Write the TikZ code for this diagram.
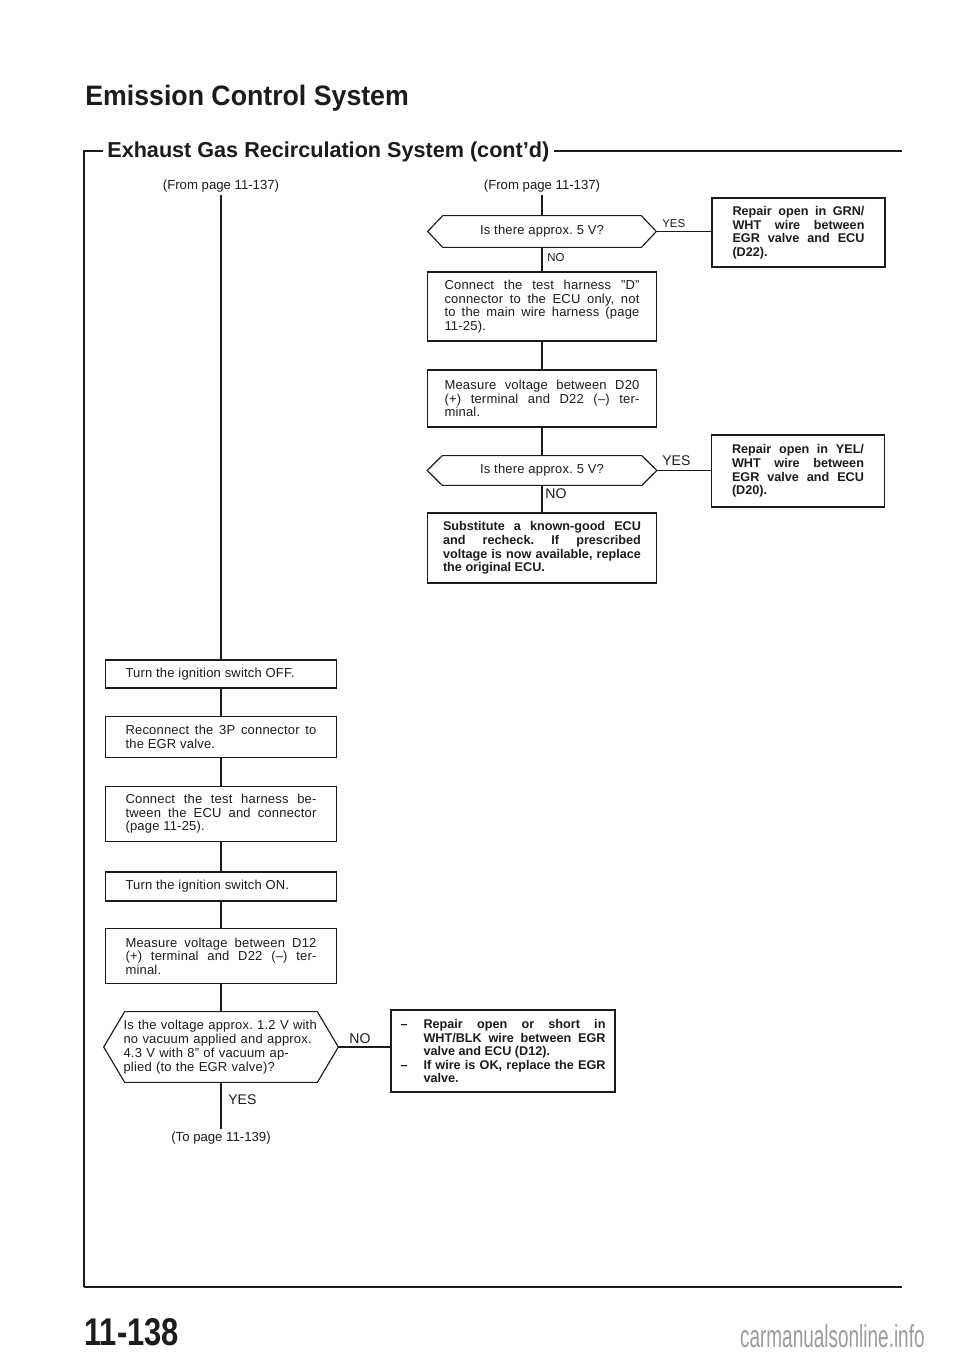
\documentclass[tikz,border=0pt]{standalone}
\usepackage{fontspec}
\setmainfont{Liberation Sans}
\newfontfamily\boxfont[LetterSpace=1.5]{Liberation Sans}
\usetikzlibrary{calc}
\frenchspacing
\definecolor{ECSink}{HTML}{1C1C1C}
\definecolor{ECSmark}{HTML}{9C9C9C}
\newcommand{\pxu}{0.02cm}
% hexagonal outline round a decision node (#2 = corner inset, px)
\newcommand{\hexframe}[2]{%
    \draw[qline] ($(#1.north west)+(#2,0)$) -- ($(#1.north east)+(-#2,0)$)
        -- (#1.east) -- ($(#1.south east)+(-#2,0)$)
        -- ($(#1.south west)+(#2,0)$) -- (#1.west) -- cycle;
}

\begin{document}
\begin{tikzpicture}[x=\pxu, y=-\pxu,
    stepline/.style={draw=ECSink, line width=0.6pt},
    qline/.style={draw=ECSink, line width=0.65pt},
    frameline/.style={draw=ECSink, line width=0.75pt},
    lbox/.style={draw=ECSink, line width=0.65pt, text=ECSink,
                 font=\boxfont\fontsize{7.4}{7.7}\selectfont,
                 text width=3.82cm, inner xsep=0.40cm, inner ysep=0pt,
                 align=justify},
    rbox/.style={lbox, text width=3.90cm, inner xsep=0.34cm},
    fixbox/.style={draw=ECSink, line width=0.65pt, text=ECSink,
                   font=\bfseries\fontsize{7.2}{7.7}\selectfont,
                   text width=2.64cm, inner xsep=0.41cm, inner ysep=0pt,
                   align=justify},
    qtext/.style={inner sep=0pt, text=ECSink,
                  font=\boxfont\fontsize{7.4}{7.9}\selectfont},
    pageref/.style={inner sep=1.5pt, text=ECSink,
                    font=\fontsize{7.5}{8}\selectfont},
    yn/.style={inner sep=0pt, anchor=base west, text=ECSink,
               font=\fontsize{8}{8}\selectfont},
    ynsmall/.style={yn, font=\fontsize{6.5}{6.5}\selectfont},
]
\useasboundingbox (0,0) rectangle (960,1358);
\fill[white] (0,0) rectangle (960,1358);

% --- Headings and page frame ---
\node[anchor=base west, inner sep=0pt, text=ECSink,
      font=\bfseries\fontsize{16}{18}\selectfont] (title) at (85,106)
    {\scalebox{0.95}[1]{Emission Control System}};
\node[anchor=base west, inner xsep=0.08cm, inner ysep=0pt, text=ECSink,
      font=\bfseries\fontsize{12.3}{14}\selectfont] (sub) at (103,158)
    {Exhaust Gas Recirculation System (cont’d)};
\coordinate (frameTL) at (84,151);
\coordinate (frameTR) at (902,151);
\coordinate (frameBL) at (84,1287);
\coordinate (frameBR) at (902,1287);
\draw[frameline] (sub.west |- frameTL) -- (frameTL) -- (frameBL);
\draw[frameline] (sub.east |- frameTR) -- (frameTR);
\draw[draw=ECSink, line width=1.6pt] (frameBL) -- (frameBR);

% --- Left branch (x = 221) ---
\node[pageref] (fromL) at (221,186) {(From page 11-137)};
\node[lbox, minimum height=0.56cm] (off) at (221,674)
    {Turn the ignition switch OFF.};
\node[lbox, minimum height=0.82cm] (recon) at (221,737)
    {Reconnect the 3P connector to\linebreak the EGR valve.};
\node[lbox, minimum height=1.10cm] (conn) at (221,814)
    {Connect the test harness be-\linebreak tween the ECU and connector\linebreak (page 11-25).};
\node[lbox, minimum height=0.58cm] (on) at (221,886.5)
    {Turn the ignition switch ON.};
\node[lbox, minimum height=1.10cm] (meas12) at (221,956)
    {Measure voltage between D12\linebreak (+) terminal and D22 (–) ter-\linebreak minal.};
\node[qtext, text width=3.90cm, align=left, minimum width=4.68cm,
      minimum height=1.40cm, font=\boxfont\fontsize{7.4}{8}\selectfont] (q3) at (221,1047)
    {Is the voltage approx. 1.2 V with\\no vacuum applied and approx.\\4.3 V with 8” of vacuum ap-\\plied (to the EGR valve)?};
\hexframe{q3}{21}
\node[fixbox, text width=4.10cm, inner xsep=0.19cm, minimum height=1.64cm] (short) at (503,1051)
    {\hangindent=0.46cm\hangafter=1\noindent\makebox[0.46cm][l]{–}Repair open or short in\linebreak WHT/BLK wire between EGR\linebreak valve and ECU (D12).\par
     \hangindent=0.46cm\hangafter=1\noindent\makebox[0.46cm][l]{–}If wire is OK, replace the EGR\linebreak valve.\par};
\node[pageref] (toL) at (221,1138) {(To page 11-139)};

\draw[stepline] (fromL) -- (off);
\draw[stepline] (off) -- (recon);
\draw[stepline] (recon) -- (conn);
\draw[stepline] (conn) -- (on);
\draw[stepline] (on) -- (meas12);
\draw[stepline] (meas12) -- (q3);
\draw[stepline] (q3.east) -- (q3.east -| short.west);
\draw[stepline] (q3) -- (toL);
\node[yn] (noL) at (349,1043) {NO};
\node[yn] (yesL) at (228,1104) {YES};

% --- Right branch (x = 542) ---
\node[pageref] (fromR) at (542,186) {(From page 11-137)};
\node[qtext, minimum width=4.56cm, minimum height=0.62cm] (q1) at (542,231.5)
    {Is there approx. 5 V?};
\hexframe{q1}{15}
\node[fixbox, minimum height=1.38cm] (grn) at (798.5,232.5)
    {Repair open in GRN/\linebreak WHT wire between\linebreak EGR valve and ECU\linebreak (D22).};
\node[rbox, minimum height=1.38cm] (connD) at (542,306.5)
    {Connect the test harness ”D”\linebreak connector to the ECU only, not\linebreak to the main wire harness (page\linebreak 11-25).};
\node[rbox, minimum height=1.14cm] (measD) at (542,398.5)
    {Measure voltage between D20\linebreak (+) terminal and D22 (–) ter-\linebreak minal.};
\node[qtext, minimum width=4.58cm, minimum height=0.58cm] (q2) at (542,470.5)
    {Is there approx. 5 V?};
\hexframe{q2}{15}
\node[fixbox, minimum height=1.44cm] (yel) at (798,471)
    {Repair open in YEL/\linebreak WHT wire between\linebreak EGR valve and ECU\linebreak (D20).};
\node[fixbox, text width=3.96cm, inner xsep=0.31cm, minimum height=1.40cm] (subst) at (542,548)
    {Substitute a known-good ECU\linebreak and recheck. If prescribed\linebreak voltage is now available, replace\linebreak the original ECU.};

\draw[stepline] (fromR) -- (q1);
\draw[stepline] (q1.east) -- (q1.east -| grn.west);
\draw[stepline] (q1) -- (connD);
\draw[stepline] (connD) -- (measD);
\draw[stepline] (measD) -- (q2);
\draw[stepline] (q2.east) -- (q2.east -| yel.west);
\draw[stepline] (q2) -- (subst);
\node[ynsmall] (yes1) at (662,228) {YES};
\node[ynsmall] (no1) at (547,262) {NO};
\node[yn] (yes2) at (662,465) {YES};
\node[yn] (no2) at (545,498) {NO};

% --- Page number and scan mark ---
\node[anchor=base west, inner sep=0pt, text=ECSink,
      font=\bfseries\fontsize{22}{22}\selectfont] (pagenum) at (84,1345)
    {\scalebox{0.8}[1]{11-138}};
\node[anchor=base east, inner sep=0pt, text=ECSmark,
      font=\fontsize{18}{18}\selectfont] (mark) at (925,1347)
    {\scalebox{0.6}[1]{carmanualsonline.info}};

\end{tikzpicture}
\end{document}
